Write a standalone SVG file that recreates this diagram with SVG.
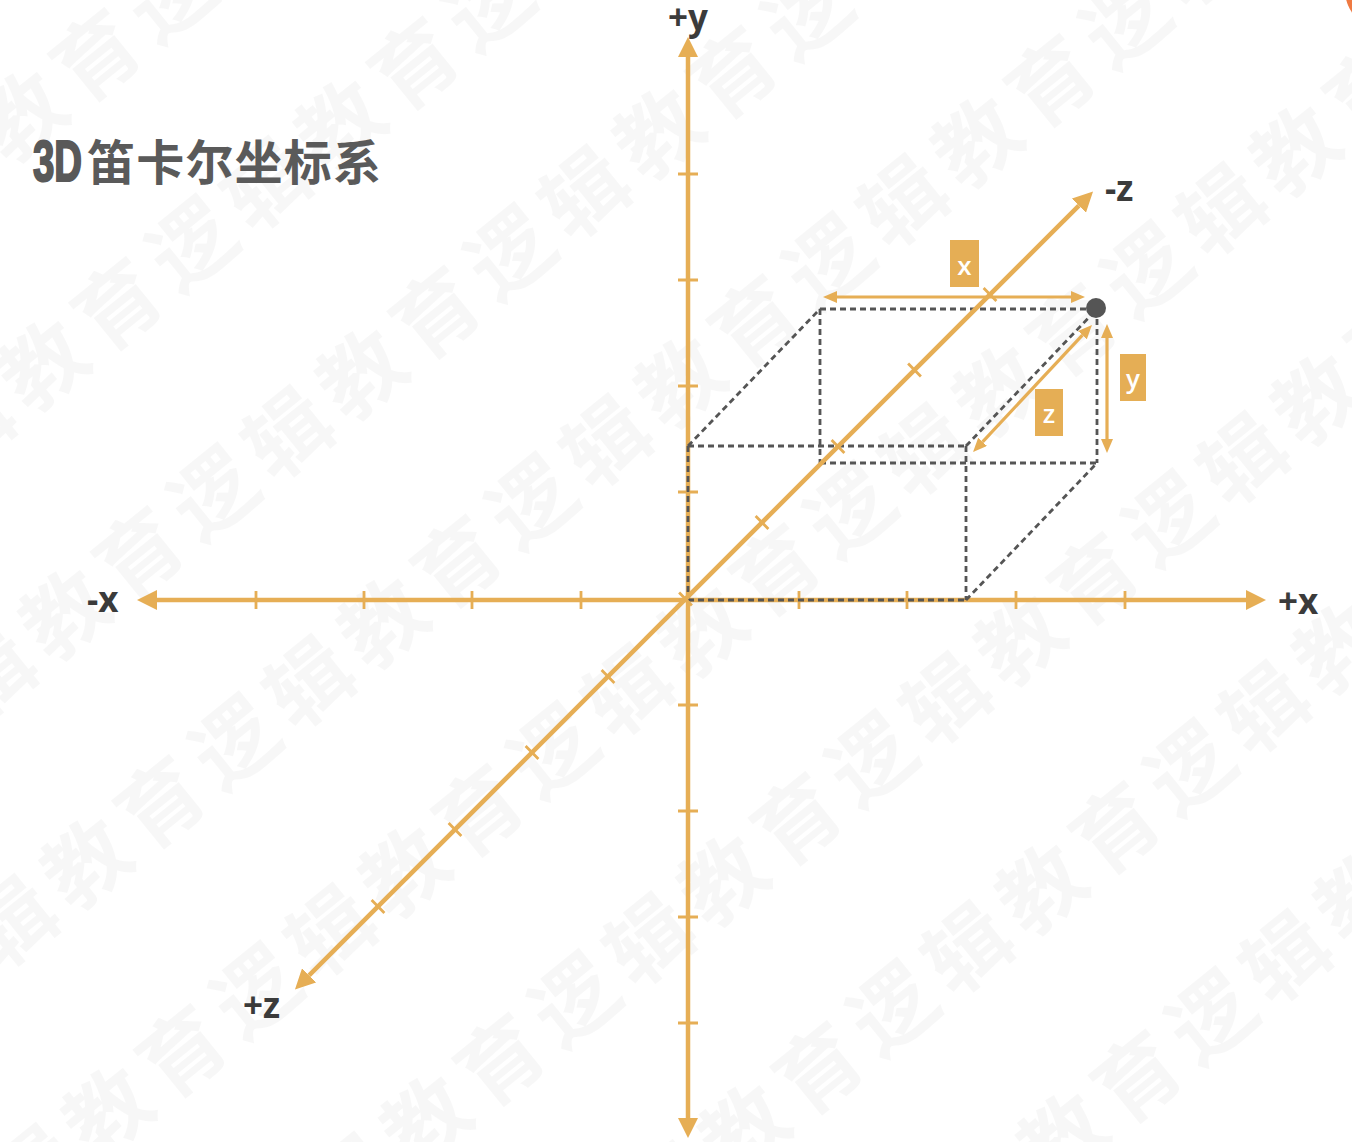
<svg xmlns="http://www.w3.org/2000/svg" width="1352" height="1142" viewBox="0 0 1352 1142">
<style>
.wm{font-family:"Noto Sans CJK SC","Noto Sans",sans-serif;font-size:84px;font-weight:700;letter-spacing:11.5px;fill:#000;fill-opacity:0.03}
.axis{stroke:#E6AE55;stroke-width:4.5;fill:none}
.tick{stroke:#E6AE55;stroke-width:2.8;fill:none}
.dim{stroke:#E6AE55;stroke-width:3.2;fill:none}
.dash{stroke:#555;stroke-width:2.8;stroke-dasharray:6 4;fill:none}
.lbl{font-family:"Open Sans","Liberation Sans",sans-serif;font-size:35px;font-weight:700;fill:#3b3b3b}
.dl{font-family:"Open Sans","Liberation Sans",sans-serif;font-size:26px;font-weight:600;fill:#fff;text-anchor:middle}
.box{fill:#E5AE55}
</style>
<defs>
<marker id="ah" viewBox="0 0 20 20" refX="0" refY="10" markerWidth="20" markerHeight="20" markerUnits="userSpaceOnUse" orient="auto-start-reverse"><path d="M0,0 L20,10 L0,20 z" fill="#E6AE55"/></marker>
<marker id="dh" viewBox="0 0 14 12" refX="0" refY="6" markerWidth="14" markerHeight="12" markerUnits="userSpaceOnUse" orient="auto-start-reverse"><path d="M0,0 L14,6 L0,12 z" fill="#E6AE55"/></marker>
</defs>
<rect width="1352" height="1142" fill="#fff"/>
<g id="watermark" transform="rotate(-39)">
<text class="wm" x="-1053" y="135">逻辑教育逻辑教育逻辑教育逻辑教育逻辑教育逻辑教育</text>
<text class="wm" x="-811" y="342">逻辑教育逻辑教育逻辑教育逻辑教育逻辑教育逻辑教育</text>
<text class="wm" x="-951" y="549">逻辑教育逻辑教育逻辑教育逻辑教育逻辑教育逻辑教育</text>
<text class="wm" x="-1091" y="756">逻辑教育逻辑教育逻辑教育逻辑教育逻辑教育逻辑教育</text>
<text class="wm" x="-849" y="963">逻辑教育逻辑教育逻辑教育逻辑教育逻辑教育逻辑教育</text>
<text class="wm" x="-989" y="1170">逻辑教育逻辑教育逻辑教育逻辑教育逻辑教育逻辑教育</text>
<text class="wm" x="-747" y="1377">逻辑教育逻辑教育逻辑教育逻辑教育逻辑教育逻辑教育</text>
<text class="wm" x="-887" y="1584">逻辑教育逻辑教育逻辑教育逻辑教育逻辑教育逻辑教育</text>
</g>
<circle cx="1385" cy="-10" r="40" fill="#EF7A42"/>
<g id="title">
<text x="33" y="181" font-family="Liberation Sans, sans-serif" font-size="57" font-weight="700" fill="#595959" stroke="#595959" stroke-width="2.2" textLength="49" lengthAdjust="spacingAndGlyphs">3D</text>
<text x="87" y="180" font-family="Noto Sans CJK SC, sans-serif" font-size="48" font-weight="700" fill="#5a5a5a" letter-spacing="1.2">笛卡尔坐标系</text>
</g>
<g id="connectors">
<g id="axis-x">
<line class="axis" x1="157" y1="600" x2="1246" y2="600" marker-start="url(#ah)" marker-end="url(#ah)"/>
<path class="tick" d="M256,591V609M364,591V609M472,591V609M581,591V609M799,591V609M907,591V609M1016,591V609M1125,591V609"/>
</g>
<g id="axis-y">
<line class="axis" x1="688" y1="57" x2="688" y2="1118" marker-start="url(#ah)" marker-end="url(#ah)"/>
<path class="tick" d="M678,174H698M678,280H698M678,386H698M678,492H698M678,705H698M678,811H698M678,917H698M678,1023H698"/>
</g>
<g id="box-edges">
<path class="dash" d="M820,309H1097M820,309V463M1097,309V463M820,463H1097M688,446H966M688,446V600M688,600H966M966,446V600M688,446L820,309M966,446L1097,309M966,600L1097,463"/>
</g>
<g id="axis-z">
<line class="axis" x1="309.1" y1="975.4" x2="1078.9" y2="205.6" marker-start="url(#ah)" marker-end="url(#ah)"/>
<path class="tick" d="M755.6,516.1l12.8,12.8M831.6,440.1l12.8,12.8M908.1,363.6l12.8,12.8M983.6,288.1l12.8,12.8M679.1,592.6l12.8,12.8M601.6,670.1l12.8,12.8M525.6,746.1l12.8,12.8M448.6,823.1l12.8,12.8M371.6,900.1l12.8,12.8"/>
</g>
<g id="dim-x">
<line class="dim" x1="837" y1="297" x2="1071" y2="297" marker-start="url(#dh)" marker-end="url(#dh)"/>
</g>
<g id="dim-y">
<line class="dim" x1="1107" y1="338" x2="1107" y2="439" marker-start="url(#dh)" marker-end="url(#dh)"/>
</g>
<g id="dim-z">
<line class="dim" x1="982.6" y1="441.8" x2="1082.4" y2="335.2" marker-start="url(#dh)" marker-end="url(#dh)"/>
</g>
</g>
<g id="point"><circle cx="1096" cy="308" r="10" fill="#555"/></g>
<g id="label-x"><rect class="box" x="950" y="240" width="29" height="47"/><text class="dl" x="964.5" y="275">x</text></g>
<g id="label-y"><rect class="box" x="1120" y="354" width="26" height="47"/><text class="dl" x="1133" y="388">y</text></g>
<g id="label-z"><rect class="box" x="1035" y="389" width="28" height="47"/><text class="dl" x="1049" y="423">z</text></g>
<g id="axis-labels">
<text class="lbl" x="688" y="30" text-anchor="middle">+y</text>
<text class="lbl" x="1105" y="201">-z</text>
<text class="lbl" x="87" y="612">-x</text>
<text class="lbl" x="1278" y="614">+x</text>
<text class="lbl" x="243" y="1018">+z</text>
</g>
</svg>
